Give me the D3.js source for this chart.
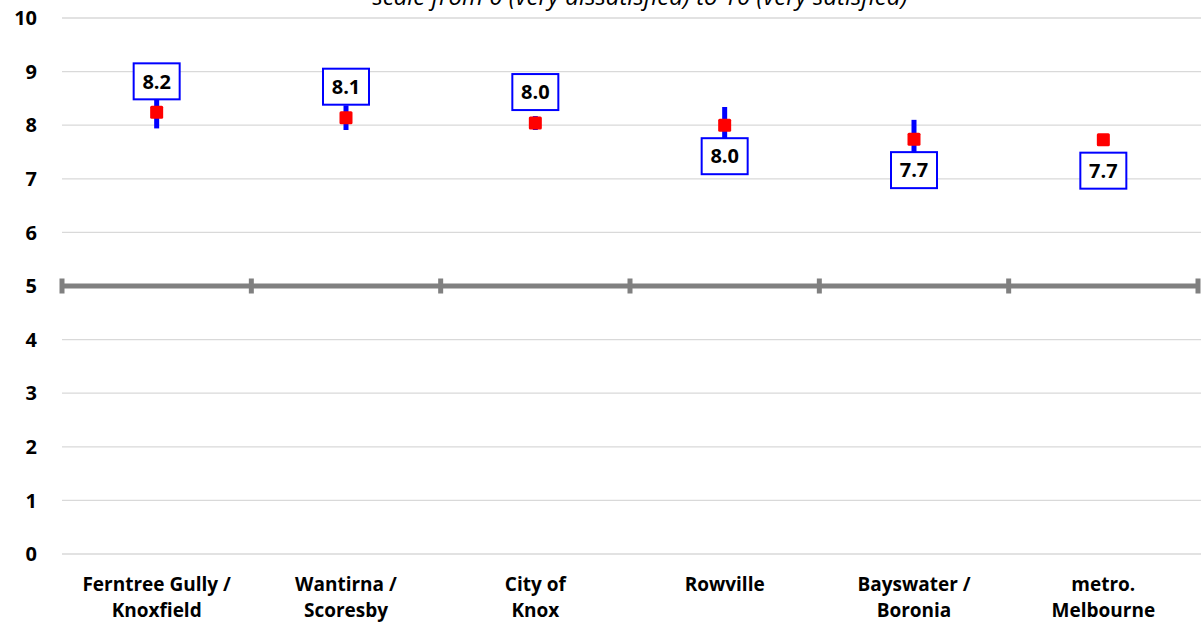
<!DOCTYPE html>
<html>
<head>
<meta charset="utf-8">
<script src="https://cdn.jsdelivr.net/npm/d3@7"></script>
<style>
  html, body { margin: 0; padding: 0; background: #fff; }
  svg { display: block; font-family: "Open Sans", Lato, sans-serif; }
</style>
</head>
<body>
<svg id="chart" width="1203" height="624"></svg>
<script>
const categories = [
  ["Ferntree Gully /", "Knoxfield"],
  ["Wantirna /", "Scoresby"],
  ["City of", "Knox"],
  ["Rowville"],
  ["Bayswater /", "Boronia"],
  ["metro.", "Melbourne"]
];
const means = [8.24, 8.14, 8.04, 8.00, 7.74, 7.73];
const errorMargins = [0.30, 0.23, 0.13, 0.34, 0.36, 0.05];
const labelAbove = [true, true, true, false, false, false];
const yTicks = [0, 1, 2, 3, 4, 5, 6, 7, 8, 9, 10];
const referenceValue = 5;
const titleText = "scale from 0 (very dissatisfied) to 10 (very satisfied)";

const svg = d3.select("#chart");
const plotLeft = 62, plotRight = 1198, plotTop = 18, plotBottom = 554;

const x = d3.scaleBand().domain(d3.range(categories.length)).range([plotLeft, plotRight]);
const y = d3.scaleLinear().domain([0, 10]).range([plotBottom, plotTop]);

// gridlines
svg.append("g").selectAll("line").data(yTicks.filter(d => d !== referenceValue)).join("line")
  .attr("x1", plotLeft).attr("x2", 1201)
  .attr("y1", d => y(d)).attr("y2", d => y(d))
  .attr("stroke", "#d9d9d9").attr("stroke-width", 1.3);

// y tick labels
svg.append("g").selectAll("text").data(yTicks).join("text")
  .attr("x", 37).attr("y", d => y(d))
  .attr("dy", "0.36em")
  .attr("text-anchor", "end")
  .attr("font-weight", 700).attr("font-size", 20)
  .attr("fill", "#000")
  .text(d => d);

// reference line at 5 with ticks at band boundaries
const refG = svg.append("g");
refG.append("line")
  .attr("x1", plotLeft).attr("x2", plotRight + 2)
  .attr("y1", y(referenceValue)).attr("y2", y(referenceValue))
  .attr("stroke", "#808080").attr("stroke-width", 5);
const bounds = d3.range(categories.length + 1).map(i => i < categories.length ? x(i) : x(categories.length - 1) + x.bandwidth());
refG.selectAll("rect").data(bounds).join("rect")
  .attr("x", d => d - 2.5).attr("width", 5)
  .attr("y", y(referenceValue) - 7.5).attr("height", 15)
  .attr("fill", "#808080");

// title (partly cut off at top, as in the reference)
svg.append("text")
  .attr("x", 640).attr("y", 5)
  .attr("text-anchor", "middle")
  .attr("font-style", "italic").attr("font-size", 24)
  .attr("fill", "#000")
  .text(titleText);

const cx = i => x(i) + x.bandwidth() / 2;

// error bars
svg.append("g").selectAll("line").data(means).join("line")
  .attr("x1", (d, i) => cx(i)).attr("x2", (d, i) => cx(i))
  .attr("y1", (d, i) => y(d - errorMargins[i]))
  .attr("y2", (d, i) => y(d + errorMargins[i]))
  .attr("stroke", "#0000ff").attr("stroke-width", 5);

// markers
svg.append("g").selectAll("rect").data(means).join("rect")
  .attr("x", (d, i) => cx(i) - 6.5).attr("y", d => y(d) - 6.5)
  .attr("width", 13).attr("height", 13).attr("rx", 1.5)
  .attr("fill", "#ff0000");

// value labels
const fmt = d3.format(".1f");
const lab = svg.append("g").selectAll("g").data(means).join("g")
  .attr("transform", (d, i) => `translate(${cx(i)},${y(d) + (labelAbove[i] ? -31 : 31)})`);
lab.append("rect")
  .attr("x", -23).attr("y", -18).attr("width", 46).attr("height", 36)
  .attr("fill", "#fff").attr("stroke", "#0000ff").attr("stroke-width", 2);
lab.append("text")
  .attr("text-anchor", "middle").attr("dy", "0.36em")
  .attr("font-weight", 700).attr("font-size", 20)
  .attr("fill", "#000")
  .text(d => fmt(d));

// category labels
const cat = svg.append("g").selectAll("text").data(categories).join("text")
  .attr("x", (d, i) => cx(i)).attr("y", 591)
  .attr("text-anchor", "middle")
  .attr("font-weight", 700).attr("font-size", 19)
  .attr("fill", "#000");
cat.selectAll("tspan").data(d => d).join("tspan")
  .attr("x", function() { return d3.select(this.parentNode).attr("x"); })
  .attr("dy", (d, j) => j === 0 ? 0 : 26)
  .text(d => d);
</script>
</body>
</html>
